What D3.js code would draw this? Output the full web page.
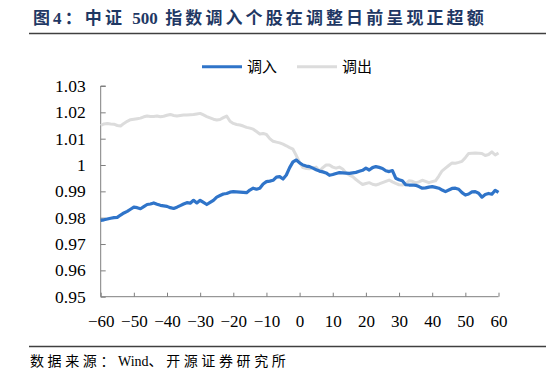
<!DOCTYPE html>
<html><head><meta charset="utf-8">
<script src="https://cdn.jsdelivr.net/npm/d3@7"></script>
<style>body{margin:0;background:#fff}svg{display:block}</style>
</head><body>
<script>
const titleParts = ["图4：中证 ", "500", " 指数调入个股在调整日前呈现正超额"];
const sourceParts = ["数据来源：", "Wind", "、开源证券研究所"];
const seriesNames = ["调入", "调出"];
const days = d3.range(-60, 61);
const xTicks = [-60,-50,-40,-30,-20,-10,0,10,20,30,40,50,60];
const yTicks = [0.95,0.96,0.97,0.98,0.99,1.00,1.01,1.02,1.03];
const inValues = [
0.9790,0.9792,0.9795,0.9798,0.9800,0.9801,0.9810,0.9818,0.9824,0.9832,
0.9840,0.9838,0.9834,0.9842,0.9850,0.9852,0.9856,0.9851,0.9847,0.9845,
0.9843,0.9838,0.9835,0.9840,0.9846,0.9852,0.9857,0.9855,0.9866,0.9856,
0.9866,0.9858,0.9850,0.9858,0.9866,0.9878,0.9884,0.9890,0.9892,0.9897,
0.9899,0.9898,0.9897,0.9896,0.9895,0.9905,0.9912,0.9908,0.9912,0.9928,
0.9937,0.9939,0.9942,0.9954,0.9956,0.9947,0.9962,0.9990,1.0012,1.0019,
1.0008,1.0000,0.9996,0.9994,0.9988,0.9982,0.9977,0.9974,0.9970,0.9961,
0.9964,0.9968,0.9971,0.9970,0.9969,0.9968,0.9970,0.9972,0.9976,0.9980,
0.9988,0.9981,0.9990,0.9994,0.9991,0.9987,0.9978,0.9975,0.9979,0.9950,
0.9944,0.9940,0.9925,0.9924,0.9924,0.9923,0.9918,0.9912,0.9913,0.9916,
0.9918,0.9915,0.9912,0.9905,0.9899,0.9905,0.9911,0.9912,0.9908,0.9895,
0.9886,0.9890,0.9898,0.9899,0.9893,0.9878,0.9888,0.9892,0.9889,0.9904,
0.9896];
const outValues = [
1.0150,1.0156,1.0158,1.0156,1.0155,1.0150,1.0148,1.0158,1.0166,1.0172,
1.0174,1.0176,1.0178,1.0183,1.0186,1.0184,1.0184,1.0186,1.0183,1.0185,
1.0189,1.0192,1.0188,1.0186,1.0188,1.0190,1.0190,1.0191,1.0192,1.0194,
1.0196,1.0190,1.0184,1.0179,1.0174,1.0171,1.0173,1.0180,1.0186,1.0166,
1.0158,1.0154,1.0152,1.0148,1.0143,1.0140,1.0136,1.0127,1.0118,1.0120,
1.0116,1.0100,1.0090,1.0087,1.0084,1.0079,1.0073,1.0066,1.0060,1.0036,
1.0010,0.9990,0.9987,0.9986,0.9990,0.9992,0.9977,0.9990,1.0000,1.0000,
0.9992,0.9988,0.9992,0.9985,0.9970,0.9962,0.9956,0.9945,0.9935,0.9926,
0.9930,0.9933,0.9927,0.9924,0.9928,0.9933,0.9938,0.9943,0.9936,0.9930,
0.9925,0.9924,0.9928,0.9940,0.9938,0.9932,0.9936,0.9942,0.9938,0.9933,
0.9937,0.9940,0.9958,0.9978,0.9988,0.9998,1.0008,1.0007,1.0010,1.0014,
1.0028,1.0044,1.0045,1.0046,1.0045,1.0044,1.0036,1.0040,1.0050,1.0038,
1.0046];
const colors = ["#2f74c9", "#dcdcdc"];

const W = 546, H = 377;
const svg = d3.select("body").append("svg").attr("width", W).attr("height", H);
const serif = "'Liberation Serif','Times New Roman',Tinos,'DejaVu Serif',serif";
const cjk = "'Liberation Serif','Times New Roman',Tinos,'Noto Sans CJK SC',sans-serif";

// title
const title = svg.append("text").attr("x", 33).attr("y", 24)
  .style("font-family", cjk).attr("font-weight", "bold").attr("font-size", 17)
  .attr("fill", "#1f3864");
titleParts.forEach((p, i) => title.append("tspan").attr("letter-spacing", i === 1 ? 0 : 3.1).text(p));
svg.append("line").attr("x1", 29).attr("x2", 546).attr("y1", 33.5).attr("y2", 33.5)
  .attr("stroke", "#404040").attr("stroke-width", 1.3);

const x = d3.scaleLinear().domain([-60, 60]).range([100.7, 498.5]);
const y = d3.scaleLinear().domain([0.95, 1.03]).range([296.7, 86]);

// y axis
const yAxis = svg.append("g").attr("transform", "translate(100.7,0)")
  .call(d3.axisRight(y).tickValues(yTicks).tickSize(5).tickFormat(d => d3.format("")(+d.toFixed(2))));
yAxis.attr("font-family", null).style("font-family", serif);
yAxis.select(".domain").attr("stroke", "#7f7f7f").attr("d", "M5," + y(1.03) + "H0V" + y(0.95));
yAxis.selectAll(".tick line").attr("stroke", "#7f7f7f");
yAxis.selectAll(".tick text").attr("x", -15).attr("text-anchor", "end")
  .style("font-family", serif).attr("font-size", 17.5).attr("fill", "#000");

// x axis
const xAxis = svg.append("g").attr("transform", "translate(0,296.7)")
  .call(d3.axisTop(x).tickValues(xTicks).tickSize(4).tickFormat(d3.format("")));
xAxis.attr("font-family", null).style("font-family", serif);
xAxis.select(".domain").attr("stroke", "#7f7f7f").attr("d", "M" + x(-60) + ",0H" + x(60));
xAxis.selectAll(".tick line").attr("stroke", "#7f7f7f");
xAxis.selectAll(".tick text").attr("y", 30).attr("dy", 0)
  .style("font-family", serif).attr("font-size", 17).attr("fill", "#000");

// lines
const line = d3.line().x((d, i) => x(days[i])).y(d => y(d));
svg.append("path").datum(outValues).attr("d", line).attr("fill", "none")
  .attr("stroke", colors[1]).attr("stroke-width", 3).attr("stroke-linejoin", "round");
svg.append("path").datum(inValues).attr("d", line).attr("fill", "none")
  .attr("stroke", colors[0]).attr("stroke-width", 3.2).attr("stroke-linejoin", "round");

// legend
const legX = [202, 297];
seriesNames.forEach((n, i) => {
  svg.append("line").attr("x1", legX[i]).attr("x2", legX[i] + 40).attr("y1", 66.7).attr("y2", 66.7)
    .attr("stroke", colors[i]).attr("stroke-width", 3);
  svg.append("text").attr("x", legX[i] + 45).attr("y", 72).style("font-family", cjk)
    .attr("font-size", 15).attr("fill", "#000").text(n);
});

// bottom rule + source
svg.append("line").attr("x1", 29).attr("x2", 546).attr("y1", 346.5).attr("y2", 346.5)
  .attr("stroke", "#404040").attr("stroke-width", 1.3);
const src = svg.append("text").attr("x", 30).attr("y", 366).style("font-family", cjk)
  .attr("font-size", 14).attr("fill", "#000");
sourceParts.forEach((p, i) => src.append("tspan").attr("letter-spacing", i === 1 ? 0 : 3.6).text(p));
</script>
</body></html>
